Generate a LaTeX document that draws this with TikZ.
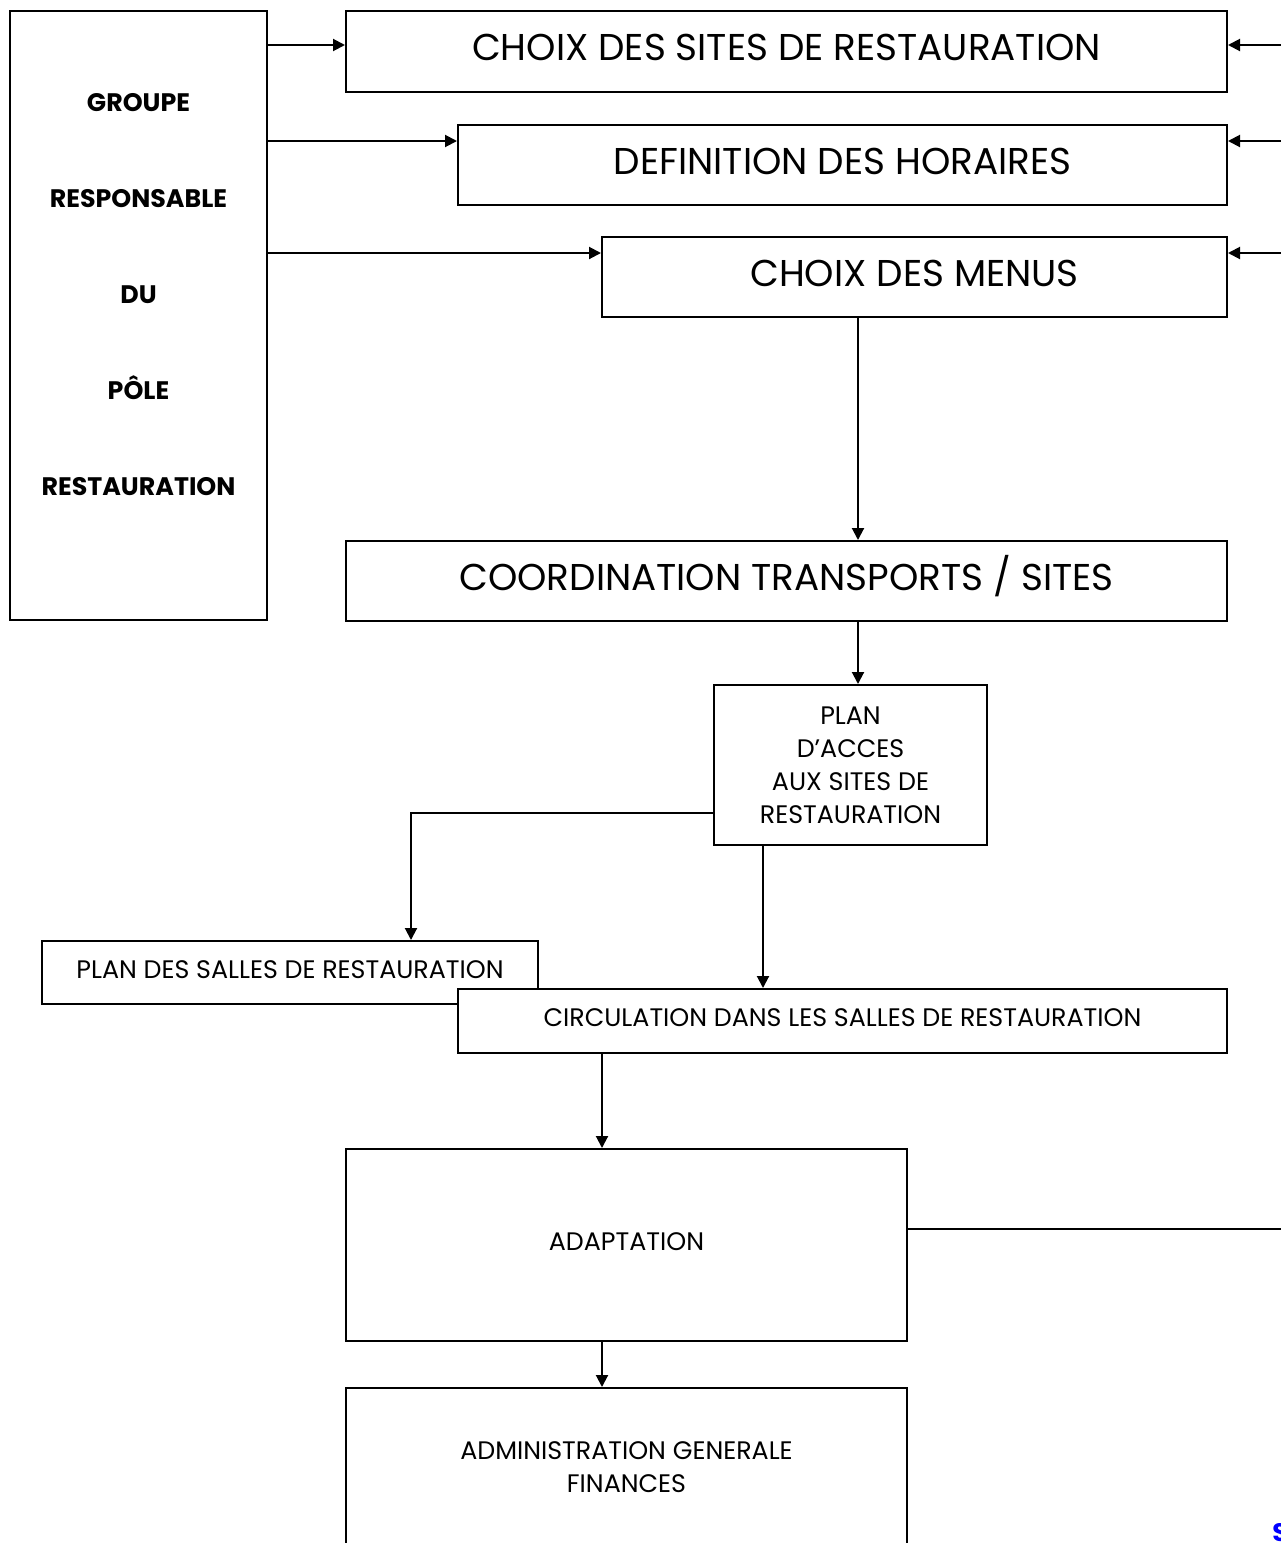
\documentclass[tikz,border=0pt]{standalone}
\usepackage{fontspec}
\setmainfont{Poppins}
\usetikzlibrary{arrows.meta}
\begin{document}
\begin{tikzpicture}[x=0.75pt,y=-0.75pt,
  box/.style={draw,line width=1.5pt,fill=white,inner sep=0pt,anchor=center,align=center},
  big/.style={font=\fontsize{28}{34}\selectfont,text height=19.5pt,text depth=6pt},
  small/.style={font=\fontsize{19}{24.75}\selectfont},
  lift/.style={text height=13.5pt,text depth=5pt},
  arr/.style={line width=1.5pt,-{Triangle[length=9pt,width=9pt]}},
  ln/.style={line width=1.5pt}]
\clip (0,0) rectangle (1281,1543);

% helper rows and columns for the connectors
\coordinate (edge) at (1300,0);
\coordinate (y1) at (0,45);
\coordinate (y2) at (0,141);
\coordinate (y3) at (0,253);
\coordinate (yacc) at (0,813);
\coordinate (yadp) at (0,1229);
\coordinate (c858) at (858,0);
\coordinate (c411) at (411,0);
\coordinate (c763) at (763,0);
\coordinate (c602) at (602,0);

% boxes
\node[box,minimum width=257*0.75pt,minimum height=609*0.75pt] (grp) at (138.5,315.5) {};
\node[font=\bfseries\fontsize{19}{72}\selectfont,align=center,inner sep=0pt] (grptxt) at (138.5,295)
  {GROUPE\\RESPONSABLE\\DU\\PÔLE\\RESTAURATION};

\node[box,big,minimum width=881*0.75pt,minimum height=81*0.75pt] (sites) at (786.5,51.5) {CHOIX DES SITES DE RESTAURATION};
\node[box,big,minimum width=769*0.75pt,minimum height=80*0.75pt] (hor) at (842.5,165) {DEFINITION DES HORAIRES};
\node[box,big,minimum width=625*0.75pt,minimum height=80*0.75pt] (menus) at (914.5,277) {CHOIX DES MENUS};
\node[box,big,minimum width=881*0.75pt,minimum height=80*0.75pt] (coord) at (786.5,581) {COORDINATION TRANSPORTS / SITES};
\node[box,small,minimum width=273*0.75pt,minimum height=160*0.75pt] (acces) at (850.5,765)
  {PLAN\\D’ACCES\\AUX SITES DE\\RESTAURATION};
\node[box,small,lift,minimum width=496*0.75pt,minimum height=63*0.75pt] (salles) at (290,972.5) {PLAN DES SALLES DE RESTAURATION};
\node[box,small,lift,minimum width=769*0.75pt,minimum height=64*0.75pt] (circ) at (842.5,1021) {CIRCULATION DANS LES SALLES DE RESTAURATION};
\node[box,small,lift,minimum width=561*0.75pt,minimum height=192*0.75pt] (adapt) at (626.5,1245) {ADAPTATION};
\node[box,small,minimum width=561*0.75pt,minimum height=158*0.75pt] (admin) at (626.5,1467) {ADMINISTRATION GENERALE\\FINANCES};

\node[font=\bfseries\fontsize{19}{24}\selectfont,text=blue,anchor=base west,inner sep=0pt] (sig) at (1272,1541) {S};

% connectors from the group box
\draw[arr] (grp.east |- y1) -- (sites.west |- y1);
\draw[arr] (grp.east |- y2) -- (hor.west |- y2);
\draw[arr] (grp.east |- y3) -- (menus.west |- y3);

% incoming from the right
\draw[arr] (edge |- y1) -- (sites.east |- y1);
\draw[arr] (edge |- y2) -- (hor.east |- y2);
\draw[arr] (edge |- y3) -- (menus.east |- y3);

% main chain
\draw[arr] (menus.south -| c858) -- (coord.north -| c858);
\draw[arr] (coord.south -| c858) -- (acces.north -| c858);
\draw[arr] (acces.west |- yacc) -- (c411 |- yacc) -- (salles.north -| c411);
\draw[arr] (acces.south -| c763) -- (circ.north -| c763);
\draw[arr] (circ.south -| c602) -- (adapt.north -| c602);
\draw[ln] (adapt.east |- yadp) -- (edge |- yadp);
\draw[arr] (adapt.south -| c602) -- (admin.north -| c602);
\end{tikzpicture}
\end{document}
